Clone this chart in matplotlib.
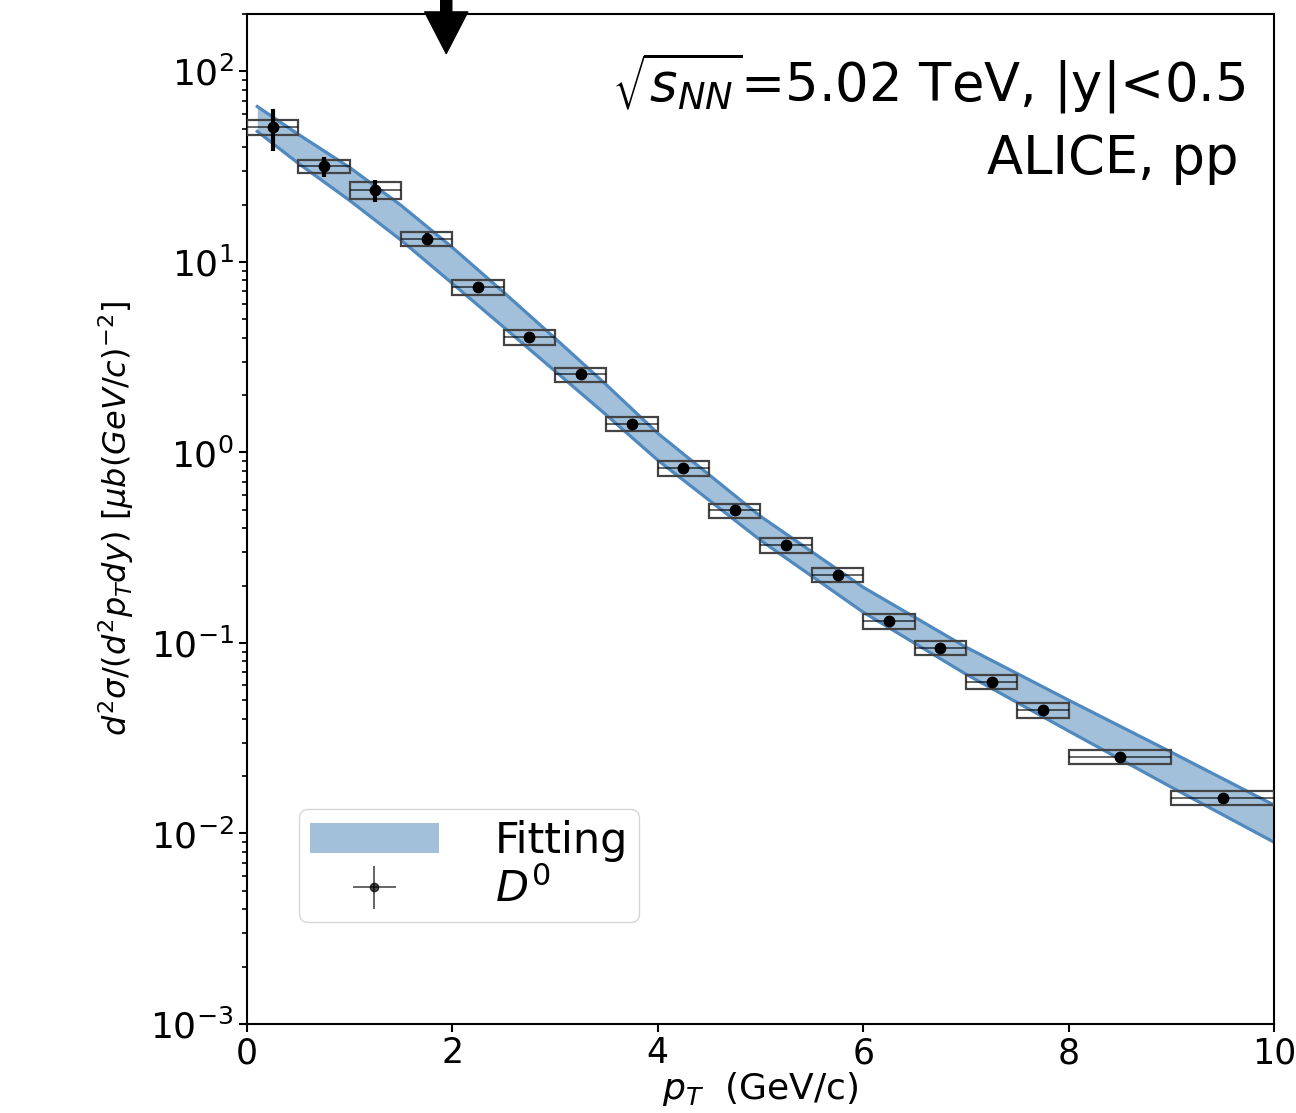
import matplotlib.pyplot as plt
from matplotlib.patches import Rectangle
import numpy as np

# D0 cross section points (pT bin centres, half widths, value, stat, sys)
pt = [0.25, 0.75, 1.25, 1.75, 2.25, 2.75, 3.25, 3.75, 4.25, 4.75,
      5.25, 5.75, 6.25, 6.75, 7.25, 7.75, 8.5, 9.5]
pt_halfwidth = [0.25] * 16 + [0.5, 0.5]
xsec = [50.8, 31.8, 23.8, 13.2, 7.37, 4.02, 2.57, 1.41, 0.826, 0.497,
        0.326, 0.227, 0.130, 0.094, 0.0623, 0.0444, 0.0252, 0.01535]
stat = [12.5, 3.8, 3.2, 1.0, 0.45, 0.22, 0.15, 0.08, 0.05, 0.03,
        0.019, 0.013, 0.008, 0.0055, 0.0037, 0.0026, 0.0015, 0.0009]
sys_err = [4.5, 2.6, 2.4, 1.15, 0.63, 0.35, 0.22, 0.12, 0.07, 0.042,
           0.028, 0.019, 0.011, 0.008, 0.0053, 0.0038, 0.0021, 0.0013]

# fit band edges
pt_fit = [0.1, 0.5, 1.0, 1.5, 2.0, 2.5, 3.0, 3.5, 4.0, 5.0, 6.0, 7.0, 8.0, 9.0, 10.0]
fit_up = [65.4, 46.7, 31.3, 19.8, 11.9, 6.92, 3.97, 2.26, 1.26, 0.462, 0.196,
          0.0951, 0.0501, 0.0267, 0.0141]
fit_lo = [48.4, 32.9, 21.0, 13.0, 7.7, 4.54, 2.67, 1.57, 0.91, 0.346, 0.145,
          0.0686, 0.0345, 0.0175, 0.0090]

fig = plt.figure(figsize=(12.96, 11.13), dpi=100)
ax = fig.add_axes([0.1906, 0.0800, 0.7924, 0.9074])

ax.fill_between(pt_fit, fit_lo, fit_up, color='steelblue', alpha=0.5,
                linewidth=0, label='Fitting')
ax.plot(pt_fit, fit_up, color='#4f89bf', lw=2.3)
ax.plot(pt_fit, fit_lo, color='#4f89bf', lw=2.3)

# systematic boxes
for x, dx, y, s in zip(pt, pt_halfwidth, xsec, sys_err):
    ax.add_patch(Rectangle((x - dx, y - s), 2 * dx, 2 * s, facecolor='none',
                           edgecolor='#444444', lw=1.6, zorder=3))

ax.errorbar(pt, xsec, xerr=pt_halfwidth, yerr=stat, fmt='o', color='k',
            alpha=0.7, ms=6, lw=1.2, zorder=4, label='$D^0$')
ax.errorbar(pt, xsec, yerr=stat, fmt='o', color='k', ms=7.5, elinewidth=3,
            zorder=5)

ax.set_yscale('log')
ax.set_xlim(0, 10)
ax.set_ylim(1e-3, 200)
ax.set_xticks([0, 2, 4, 6, 8, 10])

ax.tick_params(which='major', labelsize=26, length=6, width=1.5)
ax.tick_params(axis='x', labelsize=25, pad=3)
ax.tick_params(which='minor', length=3.5, width=1.2)
for s in ax.spines.values():
    s.set_linewidth(1.5)

ax.set_xlabel('$p_T$  (GeV/c)', fontsize=26, labelpad=0)
ax.set_ylabel(r'$d^2\sigma/(d^2p_T dy)\ [\mu b(GeV/c)^{-2}]$', fontsize=23,
              labelpad=10)

ax.text(0.972, 0.913, r'$\sqrt{s_{NN}}$=5.02 TeV, |y|<0.5', transform=ax.transAxes,
        fontsize=38, ha='right', va='baseline')
ax.text(0.965, 0.842, 'ALICE, pp', transform=ax.transAxes,
        fontsize=38, ha='right', va='baseline')

ax.annotate('', xy=(1.94, 124), xytext=(1.94, 400),
            arrowprops=dict(facecolor='black', edgecolor='black', width=8,
                            headwidth=31, headlength=30),
            annotation_clip=False)

ax.legend(loc='lower left', bbox_to_anchor=(0.0506, 0.101), borderaxespad=0,
          fontsize=31, handlelength=3.0, labelspacing=0.15, borderpad=0.25,
          handletextpad=1.3)

fig.savefig('out.png', dpi=100)
